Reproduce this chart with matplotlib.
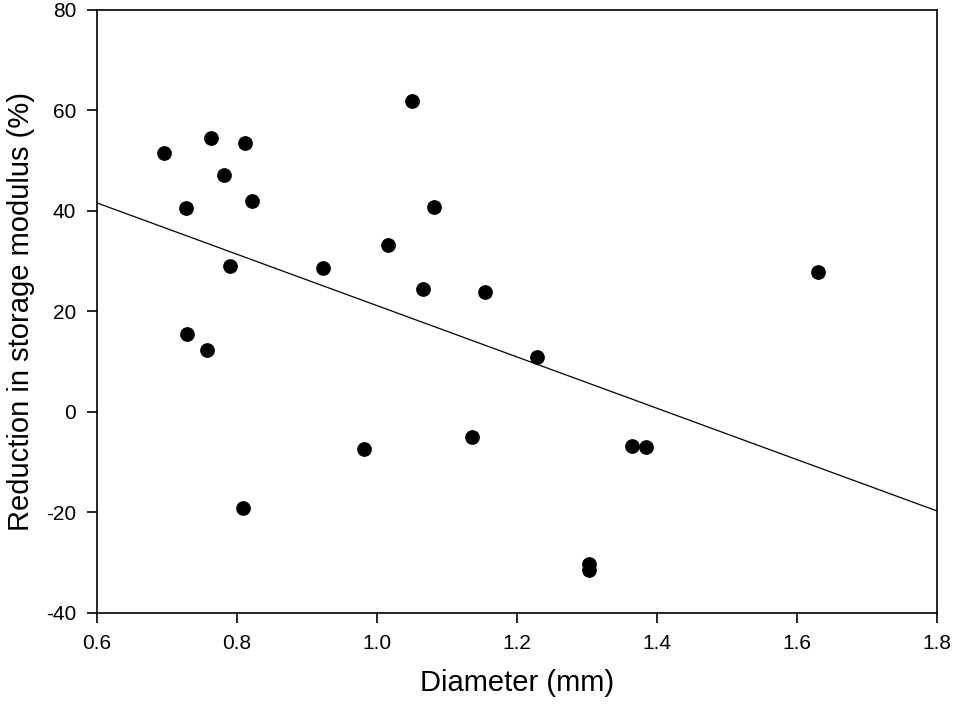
import numpy as np
import matplotlib
matplotlib.use("Agg")
import matplotlib.pyplot as plt

# diámetro (mm) vs reducción del módulo de almacenamiento (%)
diameter = [0.696, 0.727, 0.763, 0.781, 0.811, 0.821, 0.790, 0.729, 0.757,
            0.809, 0.923, 0.981, 1.016, 1.050, 1.081, 1.066, 1.154, 1.136,
            1.229, 1.303, 1.303, 1.364, 1.384, 1.630]
reduction = [51.5, 40.6, 54.5, 47.2, 53.5, 42.0, 29.1, 15.5, 12.3,
             -19.1, 28.7, -7.4, 33.2, 61.9, 40.8, 24.5, 23.9, -5.0,
             10.9, -30.2, -31.4, -6.8, -7.0, 27.9]

# recta de regresión tal como aparece en la figura
fit_x = [0.6, 1.8]
fit_y = [41.6, -19.7]

plt.rcParams["font.family"] = ["Liberation Sans Narrow", "Liberation Sans", "DejaVu Sans"]
plt.rcParams["axes.unicode_minus"] = False

fig = plt.figure(figsize=(9.54, 7.14), dpi=100)
ax = fig.add_axes([0.1017, 0.1415, 0.8805, 0.8445])

ax.scatter(diameter, reduction, s=92, color="black", zorder=3)
ax.plot(fit_x, fit_y, color="black", linewidth=0.9)

ax.set_xlim(0.6, 1.8)
ax.set_ylim(-40, 80)
ax.set_xticks(np.arange(0.6, 1.81, 0.2))
ax.set_xticklabels(["0.6", "0.8", "1.0", "1.2", "1.4", "1.6", "1.8"])
ax.set_yticks(range(-40, 81, 20))
ax.tick_params(direction="out", length=7, width=1.2, labelsize=15, pad=8)
for sp in ax.spines.values():
    sp.set_linewidth(1.2)

ax.set_xlabel("Diameter (mm)", fontsize=21, labelpad=12)
ax.set_ylabel("Reduction in storage modulus (%)", fontsize=21, labelpad=8)

fig.savefig("out.png", dpi=100)
